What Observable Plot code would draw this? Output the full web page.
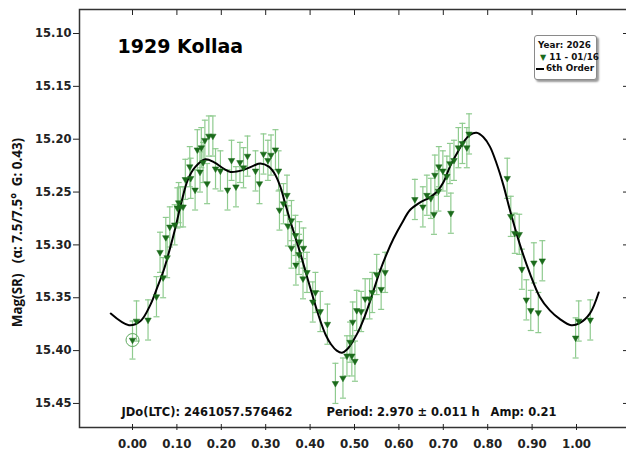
<!DOCTYPE html>
<html><head><meta charset="utf-8">
<script src="https://cdn.jsdelivr.net/npm/d3@7"></script>
<script src="https://cdn.jsdelivr.net/npm/@observablehq/plot@0.6"></script>
<style>
body{margin:0;background:#fff;}
#wrap{position:relative;width:626px;height:452px;overflow:hidden;}
#legend{position:absolute;left:534px;top:35px;width:61px;height:43px;border:1px solid #8a8a8a;border-radius:3px;background:#fff;box-shadow:2px 2px 2px #9a9a9a;font:bold 8.8px "DejaVu Sans",sans-serif;color:#111;}
#legend div{position:absolute;white-space:nowrap;line-height:10px;}
</style>
</head><body>
<div id="wrap"></div>
<script>
// observations (phase, magnitude, error)
const phase = [0.000,0.009,0.035,0.054,0.069,0.078,0.062,0.075,0.084,0.095,0.101,0.108,0.114,0.104,0.119,0.131,0.141,0.129,0.152,0.159,0.146,0.155,0.163,0.172,0.181,0.168,0.187,0.198,0.214,
0.223,0.233,0.242,0.250,0.259,0.277,0.286,0.295,0.305,0.312,0.322,0.329,0.331,0.340,0.348,0.350,0.358,0.367,0.376,0.358,0.368,0.375,0.385,0.393,0.384,0.412,0.406,
0.423,0.439,0.457,0.474,0.483,0.490,0.494,0.501,0.496,0.505,0.515,0.524,0.534,0.540,0.550,0.560,0.569,
0.636,0.654,0.663,0.672,0.679,0.681,0.689,0.690,0.699,0.708,0.715,0.717,0.724,0.734,0.743,0.753,0.758,
0.844,0.852,0.861,0.871,0.877,0.887,0.897,0.904,0.914,0.923,0.998,1.005,1.031];
const mag = [15.390,15.372,15.371,15.349,15.331,15.312,15.307,15.293,15.283,15.281,15.265,15.264,15.264,15.260,15.238,15.237,15.248,15.226,15.231,15.222,15.210,15.208,15.201,15.197,15.197,15.242,15.228,15.230,15.248,
15.220,15.245,15.222,15.227,15.216,15.230,15.242,15.214,15.220,15.215,15.210,15.230,15.267,15.261,15.253,15.282,15.277,15.291,15.297,15.303,15.319,15.309,15.303,15.326,15.332,15.345,15.354,
15.363,15.375,15.431,15.426,15.405,15.392,15.405,15.410,15.373,15.362,15.363,15.351,15.351,15.345,15.328,15.342,15.326,
15.257,15.264,15.253,15.256,15.271,15.234,15.249,15.226,15.230,15.235,15.223,15.270,15.220,15.208,15.204,15.208,15.195,
15.237,15.273,15.289,15.290,15.323,15.352,15.362,15.317,15.364,15.315,15.388,15.372,15.371];
const err = [0.018,0.019,0.019,0.019,0.019,0.019,0.019,0.019,0.019,0.019,0.019,0.019,0.019,0.019,0.019,0.019,0.019,0.019,0.019,0.019,0.019,0.019,0.019,0.019,0.019,0.019,0.019,0.019,0.019,
0.019,0.019,0.019,0.019,0.019,0.019,0.019,0.019,0.019,0.019,0.019,0.019,0.019,0.019,0.019,0.019,0.019,0.019,0.019,0.019,0.019,0.019,0.019,0.019,0.019,0.019,0.019,
0.019,0.019,0.019,0.019,0.019,0.019,0.019,0.019,0.019,0.019,0.019,0.019,0.019,0.019,0.019,0.019,0.019,
0.019,0.019,0.019,0.019,0.019,0.019,0.019,0.019,0.019,0.019,0.019,0.019,0.019,0.019,0.019,0.019,0.019,
0.019,0.019,0.019,0.019,0.019,0.019,0.019,0.019,0.019,0.019,0.019,0.019,0.019];

// 6th order Fourier fit
const fitPhase = [-0.049,-0.008,0.018,0.041,0.056,0.071,0.084,0.097,0.110,0.125,0.142,0.164,0.184,0.206,0.221,0.250,0.273,0.288,0.307,0.322,0.333,0.344,0.355,0.367,0.378,0.391,0.404,0.414,0.424,0.435,0.447,0.460,0.472,0.483,0.498,0.513,0.528,0.543,0.558,0.573,0.588,0.606,0.625,0.647,0.670,0.685,0.700,0.715,0.730,0.745,0.760,0.775,0.790,0.805,0.820,0.835,0.850,0.872,0.895,0.917,0.940,0.962,0.988,1.007,1.030,1.050];
const fitMag = [15.365,15.376,15.372,15.356,15.340,15.323,15.304,15.283,15.260,15.238,15.226,15.219,15.222,15.228,15.231,15.229,15.225,15.223,15.226,15.234,15.245,15.261,15.277,15.293,15.308,15.327,15.346,15.360,15.373,15.385,15.394,15.400,15.402,15.399,15.390,15.378,15.362,15.343,15.324,15.308,15.294,15.280,15.267,15.260,15.255,15.250,15.241,15.226,15.214,15.203,15.196,15.194,15.198,15.207,15.223,15.243,15.267,15.299,15.327,15.349,15.362,15.370,15.376,15.374,15.365,15.345];

const xTicks = [0,0.1,0.2,0.3,0.4,0.5,0.6,0.7,0.8,0.9,1.0];
const yTicks = [15.10,15.15,15.20,15.25,15.30,15.35,15.40,15.45];

const titleText = "1929 Kollaa";
const yLabel = "Mag(SR)\u00a0\u00a0\u00a0(\u03b1: 7.5/7.5\u00b0\u00a0\u00a0G: 0.43)";
const infoTexts = ["JDo(LTC): 2461057.576462", "Period: 2.970 \u00b1 0.011 h", "Amp: 0.21"];
const legendTitle = "Year: 2026";
const legendSeries = "11 - 01/16";
const legendFit = "6th Order";

const pts = phase.map((p,i)=>({x:p, y:mag[i], e:err[i]}));
const fit = fitPhase.map((p,i)=>({x:p, y:fitMag[i]}));

const W=626, H=452, mL=79, mT=9, mB=25, mR=-2;
const x0px=132, xUnit=444, y0px=33, yUnit=1057;
const xDom=[(mL-x0px)/xUnit, (W-mR-x0px)/xUnit];
const yDom=[15.10-(y0px-mT)/yUnit, 15.45+(H-mB-(y0px+0.35*yUnit))/yUnit];

const F = {fontFamily:"DejaVu Sans", fontWeight:"bold"};
const cap = 0.0068;

const chart = Plot.plot({
  width:W, height:H, marginLeft:mL, marginRight:mR, marginTop:mT, marginBottom:mB,
  style:{background:"#fff", color:"#222", overflow:"hidden"},
  x:{domain:xDom},
  y:{domain:yDom, reverse:true},
  marks:[
    Plot.ruleX(pts,{x:"x", y1:d=>d.y-d.e, y2:d=>d.y+d.e, stroke:"#8fcb8f", strokeWidth:1.2}),
    Plot.link(pts,{x1:d=>d.x-cap, x2:d=>d.x+cap, y1:d=>d.y-d.e, y2:d=>d.y-d.e, stroke:"#8fcb8f", strokeWidth:1.2}),
    Plot.link(pts,{x1:d=>d.x-cap, x2:d=>d.x+cap, y1:d=>d.y+d.e, y2:d=>d.y+d.e, stroke:"#8fcb8f", strokeWidth:1.2}),
    Plot.line(fit,{x:"x", y:"y", curve:"catmull-rom", stroke:"#000", strokeWidth:2}),
    Plot.dot(pts,{x:"x", y:"y", symbol:"triangle", rotate:180, r:2.4, fill:"#1b6b1b", stroke:"#1b6b1b", strokeWidth:0.5}),
    Plot.dot(pts.slice(0,1),{x:"x", y:"y", r:6.5, fill:"none", stroke:"#5faa5f", strokeWidth:1}),
    Plot.frame({stroke:"#333", strokeWidth:1.5}),
    Plot.axisY(yTicks,{anchor:"left", tickSize:6, tickPadding:2, tickFormat:d3.format(".2f"), fontSize:11.5, ...F, label:null}),
    Plot.axisY(yTicks,{anchor:"right", tickSize:-6, tickFormat:()=>"", label:null}),
    Plot.axisX(xTicks,{anchor:"bottom", tickSize:3, tickPadding:9, tickFormat:d3.format(".2f"), fontSize:11.8, ...F, label:null}),
    Plot.axisX(xTicks,{anchor:"bottom", tickSize:-3, tickFormat:()=>"", label:null}),
    Plot.axisX(xTicks,{anchor:"top", tickSize:-5, tickFormat:()=>"", label:null}),
    Plot.text([titleText],{text:d=>d, frameAnchor:"top-left", dx:38, dy:30, textAnchor:"start", lineAnchor:"top", fontSize:19, ...F, fill:"#000"}),
    Plot.text([yLabel],{text:d=>d, frameAnchor:"left", rotate:-90, dx:-62, dy:14, textAnchor:"middle", lineAnchor:"middle", fontSize:13.4, fontFamily:"Open Sans", fontWeight:"bold", fill:"#111"}),
    Plot.text(infoTexts.slice(0,1),{text:d=>d, frameAnchor:"bottom-left", dx:42, dy:-20, textAnchor:"start", lineAnchor:"top", fontSize:11.5, ...F, fill:"#111"}),
    Plot.text(infoTexts.slice(1,2),{text:d=>d, frameAnchor:"bottom-left", dx:247, dy:-20, textAnchor:"start", lineAnchor:"top", fontSize:11.5, ...F, fill:"#111"}),
    Plot.text(infoTexts.slice(2,3),{text:d=>d, frameAnchor:"bottom-left", dx:411, dy:-20, textAnchor:"start", lineAnchor:"top", fontSize:11.5, ...F, fill:"#111"})
  ]
});
const wrap = document.getElementById("wrap");
wrap.appendChild(chart);

const lg = document.createElement("div");
lg.id = "legend";
lg.innerHTML = `<div style="left:3px;top:4px">${legendTitle}</div>
<div style="left:5px;top:16px"><span style="color:#1b6b1b;font-size:8px">\u25BC</span> ${legendSeries}</div>
<div style="left:1px;top:27px"><span style="display:inline-block;width:8px;height:2px;background:#000;vertical-align:middle;margin-right:2px"></span>${legendFit}</div>`;
wrap.appendChild(lg);
</script>
</body></html>
